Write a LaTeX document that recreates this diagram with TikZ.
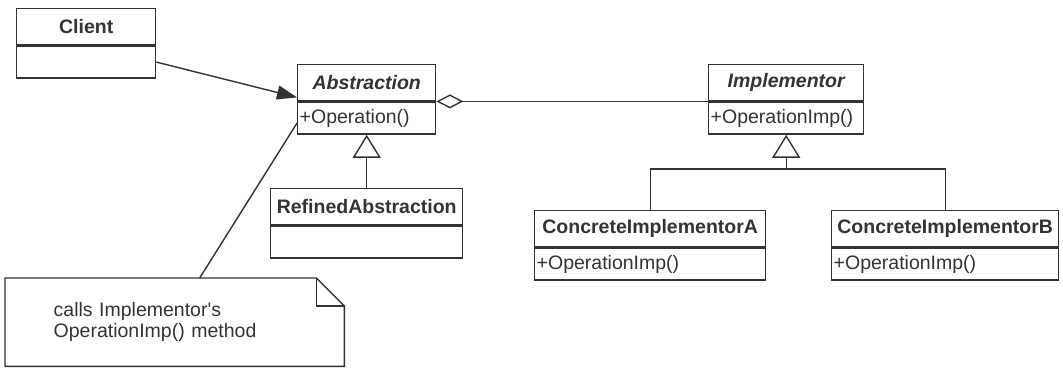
\documentclass[tikz,border=0pt]{standalone}
\usepackage{fontspec}
\setmainfont{Liberation Sans}
\usetikzlibrary{arrows.meta,positioning}
\definecolor{ink}{HTML}{333333}

\begin{document}
\begin{tikzpicture}[
  x=1pt, y=-1pt,
  color=ink, line width=1.4pt,
  clsname/.style={draw, minimum height=36pt, inner sep=0pt, font=\fontsize{19.5pt}{23pt}\selectfont\bfseries},
  abstract/.style={clsname, font=\fontsize{19.5pt}{23pt}\selectfont\bfseries\itshape},
  ops/.style={draw, minimum height=32pt, inner xsep=2pt, inner ysep=0pt, align=left, font=\fontsize{19.5pt}{23pt}\selectfont},
  notebox/.style={minimum height=87pt, inner xsep=48pt, inner ysep=0pt, align=left, font=\fontsize{19.5pt}{21.5pt}\selectfont},
  assoc/.style={-{Triangle[length=20pt,width=14pt]}},
  inherit/.style={-{Triangle[open,length=23pt,width=28pt]}},
  aggr/.style={{Diamond[open,length=27pt,width=14pt]}-}
]
\useasboundingbox (0,0) rectangle (1063,369);
\node[clsname, minimum width=139pt, anchor=north west] (client) at (16,8) {Client};
\node[ops, minimum width=139pt, below=0pt of client] (client-ops) {};
\node[abstract, minimum width=138pt, anchor=north west] (abs) at (297,64) {Abstraction};
\node[ops, text width=134pt, below=0pt of abs] (abs-ops) {+Operation()};
\node[abstract, minimum width=155pt, anchor=north west] (impl) at (708,64) {Implementor};
\node[ops, text width=151pt, below=0pt of impl] (impl-ops) {+OperationImp()};
\node[clsname, minimum width=192pt, anchor=north west] (refined) at (270,188) {RefinedAbstraction};
\node[ops, minimum width=192pt, below=0pt of refined] (refined-ops) {};
\node[clsname, minimum width=231pt, anchor=north west] (concA) at (534,210) {ConcreteImplementorA};
\node[ops, text width=227pt, below=0pt of concA] (concA-ops) {+OperationImp()};
\node[clsname, minimum width=227pt, anchor=north west] (concB) at (831,210) {ConcreteImplementorB};
\node[ops, text width=223pt, below=0pt of concB] (concB-ops) {+OperationImp()};
\node[notebox, text width=242pt, anchor=north west] (note) at (5,278) {calls Implementor\textquotesingle s\\OperationImp() method};
\draw (note.south west) -- (note.north west) -- ([xshift=-28pt]note.north east) -- ([yshift=-28pt]note.north east) -- (note.south east) -- cycle;
\draw ([xshift=-28pt]note.north east) |- ([yshift=-28pt]note.north east);
\coordinate[below=34pt of impl-ops.south] (fork);
\draw[assoc] (client-ops.east) -- ([yshift=4pt]abs.south west);
\draw ([xshift=25pt]note.north) -- ([yshift=-5pt]abs-ops.west);
\draw[aggr] (abs.south east) -- (impl.south west);
\draw[inherit] (refined.north) -- (abs-ops.south);
\draw[inherit] (concA.north) |- (fork) -- (impl-ops.south);
\draw (concB.north) |- (fork);
\end{tikzpicture}
\end{document}
